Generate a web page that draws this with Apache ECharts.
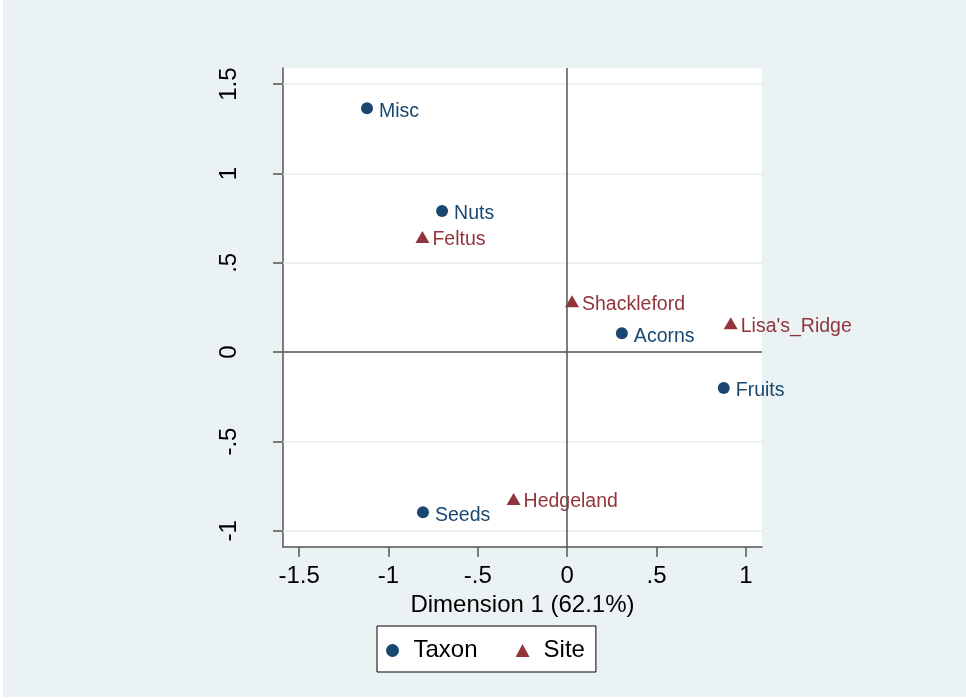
<!DOCTYPE html>
<html>
<head>
<meta charset="utf-8">
<script src="https://cdn.jsdelivr.net/npm/echarts@6/dist/echarts.min.js"></script>
<style>
  html, body { margin: 0; padding: 0; background: #ffffff; }
  #chart { position: absolute; left: 3px; top: 0; width: 963px; height: 697px; }
</style>
</head>
<body>
<div id="chart"></div>
<script>
// data
const taxonNames = ['Misc', 'Nuts', 'Acorns', 'Fruits', 'Seeds']
const taxonX = [-1.12, -0.70, 0.306, 0.876, -0.807]
const taxonY = [1.365, 0.79, 0.106, -0.20, -0.895]

const siteNames = ['Feltus', 'Shackleford', "Lisa's_Ridge", 'Hedgeland']
const siteX = [-0.81, 0.027, 0.915, -0.30]
const siteY = [0.645, 0.285, 0.162, -0.822]

const xTicks = [-1.5, -1, -0.5, 0, 0.5, 1]
const xTickLabels = ['-1.5', '-1', '-.5', '0', '.5', '1']
const yTicks = [-1, -0.5, 0, 0.5, 1, 1.5]
const yTickLabels = ['-1', '-.5', '0', '.5', '1', '1.5']

const FONT = 'Liberation Sans, Arial, sans-serif'
const NAVY = '#1a476f'
const MAROON = '#90353b'

function tickLabel(ticks, labels) {
  return (v) => {
    const i = ticks.findIndex((t) => Math.abs(t - v) < 1e-9)
    return i < 0 ? '' : labels[i]
  }
}

function points(names, xs, ys) {
  return names.map((n, i) => ({ name: n, value: [xs[i], ys[i]] }))
}

const chart = echarts.init(document.getElementById('chart'))

chart.setOption({
  backgroundColor: '#eaf2f3',
  animation: false,
  grid: { left: 280, top: 68, width: 479, height: 479, backgroundColor: '#ffffff', show: true, borderWidth: 0 },
  xAxis: {
    type: 'value',
    min: -1.59,
    max: 1.09,
    name: 'Dimension 1 (62.1%)',
    nameLocation: 'middle',
    nameGap: 43,
    nameTextStyle: { fontFamily: FONT, fontSize: 24, color: '#000' },
    axisLine: { onZero: false, lineStyle: { color: '#555', width: 1.5 } },
    axisTick: { customValues: xTicks, length: 10, lineStyle: { color: '#555', width: 1.5 } },
    axisLabel: {
      customValues: xTicks,
      formatter: tickLabel(xTicks, xTickLabels),
      fontFamily: FONT, fontSize: 24, color: '#000', margin: 17
    },
    splitLine: { show: false }
  },
  yAxis: {
    type: 'value',
    min: -1.09,
    max: 1.59,
    axisLine: { show: true, onZero: false, lineStyle: { color: '#555', width: 1.5 } },
    axisTick: { show: true, customValues: yTicks, length: 10, lineStyle: { color: '#555', width: 1.5 } },
    axisLabel: {
      customValues: yTicks,
      formatter: tickLabel(yTicks, yTickLabels),
      rotate: 90,
      fontFamily: FONT, fontSize: 24, color: '#000', margin: 42
    },
    splitLine: { show: false }
  },
  legend: {
    data: ['Taxon', 'Site'],
    left: 374,
    top: 626,
    orient: 'horizontal',
    backgroundColor: '#ffffff',
    borderColor: '#000',
    borderWidth: 1,
    borderRadius: 0,
    padding: [9, 11, 6, 9],
    itemWidth: 14,
    itemHeight: 13,
    itemGap: 38,
    symbolKeepAspect: true,
    textStyle: { fontFamily: FONT, fontSize: 24, color: '#000', lineHeight: 26, padding: [5, 0, 0, 9] }
  },
  series: [
    {
      // gridlines and reference lines
      type: 'scatter',
      data: [],
      silent: true,
      z: 1,
      markLine: {
        silent: true,
        symbol: 'none',
        label: { show: false },
        animation: false,
        lineStyle: { color: '#e4eef0', width: 1.5, type: 'solid' },
        data: yTicks.map((v) => ({ yAxis: v }))
      }
    },
    {
      type: 'scatter',
      data: [],
      silent: true,
      z: 2,
      markLine: {
        silent: true,
        symbol: 'none',
        label: { show: false },
        animation: false,
        lineStyle: { color: '#555', width: 1.5, type: 'solid' },
        data: [{ xAxis: 0 }, { yAxis: 0 }]
      }
    },
    {
      name: 'Taxon',
      type: 'scatter',
      z: 3,
      symbol: 'circle',
      symbolSize: 12,
      itemStyle: { color: NAVY, opacity: 1 },
      label: {
        show: true,
        position: 'right',
        distance: 6,
        formatter: '{b}',
        fontFamily: FONT,
        fontSize: 19.5,
        color: NAVY,
        offset: [0, 3]
      },
      data: points(taxonNames, taxonX, taxonY)
    },
    {
      name: 'Site',
      type: 'scatter',
      z: 3,
      symbol: 'triangle',
      symbolSize: [14, 12],
      itemStyle: { color: MAROON, opacity: 1 },
      label: {
        show: true,
        position: 'right',
        distance: 3,
        formatter: '{b}',
        fontFamily: FONT,
        fontSize: 19.5,
        color: MAROON,
        offset: [0, 3]
      },
      data: points(siteNames, siteX, siteY)
    }
  ]
})
</script>
</body>
</html>
